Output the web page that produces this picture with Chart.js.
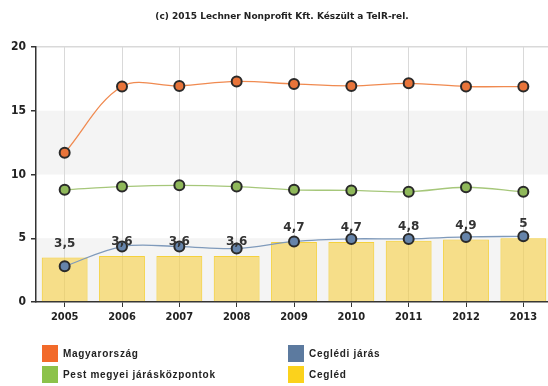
<!DOCTYPE html>
<html>
<head>
<meta charset="utf-8">
<script src="https://cdn.jsdelivr.net/npm/chart.js@4"></script>
<style>
  html, body { margin: 0; padding: 0; background: #fff; overflow: hidden; width: 548px; height: 386px; }
  #wrap { position: absolute; left: 0; top: 0; width: 559px; height: 335px; }
  #legend { position: absolute; left: 0; top: 0; width: 548px; height: 386px; pointer-events: none;
            font-family: "Liberation Sans", Arial, sans-serif; font-weight: bold; font-size: 10px; color: #222; }
  .item { position: absolute; height: 17px; line-height: 17px; white-space: nowrap; letter-spacing: 0.7px; }
  .sw { display: inline-block; width: 16px; height: 17px; vertical-align: top; margin-right: 5px; }
</style>
</head>
<body>
<div id="wrap"><canvas id="c" width="559" height="335"></canvas></div>
<div id="legend"></div>
<script>
const years = ['2005','2006','2007','2008','2009','2010','2011','2012','2013'];
const magyarorszag = [11.7, 16.9, 16.95, 17.3, 17.1, 16.95, 17.15, 16.9, 16.9];
const pestMegyei   = [8.8, 9.05, 9.15, 9.05, 8.8, 8.75, 8.65, 9.0, 8.65];
const cegledJaras  = [2.8, 4.35, 4.35, 4.2, 4.75, 4.95, 4.95, 5.1, 5.15];
const cegled       = [3.5, 3.6, 3.6, 3.6, 4.7, 4.7, 4.8, 4.9, 5.0];
const cegledLabels = ['3,5','3,6','3,6','3,6','4,7','4,7','4,8','4,9','5'];
const yTicks = [0, 5, 10, 15, 20];
const titleText = '(c) 2015 Lechner Nonprofit Kft. Készült a TeIR-rel.';

const seriesNames = ['Magyarország', 'Ceglédi járás', 'Pest megyei járásközpontok', 'Cegléd'];
const seriesColors = ['#f26a2a', '#5c7a9f', '#8cc24a', '#fbd21c'];

const bandsPlugin = {
  id: 'bands',
  beforeDraw(chart) {
    const { ctx, chartArea: a, scales: { y } } = chart;
    ctx.save();
    ctx.fillStyle = '#f4f4f4';
    for (let i = 0; i < yTicks.length - 1; i += 2) {
      const top = y.getPixelForValue(yTicks[i + 1]);
      const bot = y.getPixelForValue(yTicks[i]);
      ctx.fillRect(a.left, top, a.right - a.left, bot - top);
    }
    ctx.restore();
  }
};

const titlePlugin = {
  id: 'topTitle',
  afterDraw(chart) {
    const ctx = chart.ctx;
    ctx.save();
    ctx.font = 'bold 9px "DejaVu Sans", Verdana, sans-serif';
    ctx.fillStyle = '#222';
    ctx.textAlign = 'center';
    ctx.textBaseline = 'middle';
    ctx.fillText(titleText, 282, 17);
    ctx.restore();
  }
};

const labelPlugin = {
  id: 'barLabels',
  afterDatasetsDraw(chart) {
    const ctx = chart.ctx;
    const idx = chart.data.datasets.findIndex(d => d.type === 'bar');
    const meta = chart.getDatasetMeta(idx);
    ctx.save();
    ctx.font = 'bold 12px "DejaVu Sans", Verdana, sans-serif';
    ctx.fillStyle = '#333';
    ctx.textAlign = 'center';
    ctx.textBaseline = 'middle';
    meta.data.forEach((el, i) => {
      ctx.fillText(cegledLabels[i], el.x, el.y - 14);
    });
    ctx.restore();
  }
};

function lineDs(label, data, color, lineColor, order) {
  return {
    type: 'line', label, data, order,
    borderColor: lineColor, borderWidth: 1.3,
    backgroundColor: color,
    pointBackgroundColor: color, pointBorderColor: '#2a2a2a', pointBorderWidth: 2,
    pointRadius: 5, tension: 0.35, fill: false
  };
}

new Chart(document.getElementById('c'), {
  data: {
    labels: years,
    datasets: [
      lineDs('Magyarország', magyarorszag, '#e8743a', '#f08a50', 1),
      lineDs('Pest megyei járásközpontok', pestMegyei, '#8fb85a', '#a6c77a', 2),
      lineDs('Ceglédi járás', cegledJaras, '#6684aa', '#7f9abb', 3),
      {
        type: 'bar', label: 'Cegléd', data: cegled, order: 10,
        backgroundColor: 'rgba(247, 204, 50, 0.55)',
        borderColor: 'rgba(245, 205, 40, 0.9)', borderWidth: 1,
        barPercentage: 0.8, categoryPercentage: 1.0
      }
    ]
  },
  options: {
    responsive: false, maintainAspectRatio: false, animation: false,
    layout: { padding: { top: 47, right: 0, left: 0, bottom: 0 } },
    plugins: { legend: { display: false }, tooltip: { enabled: false }, title: { display: false } },
    scales: {
      x: {
        offset: true,
        grid: { offset: false, color: '#d9d9d9', tickColor: '#333', tickLength: 5, lineWidth: 1 },
        border: { color: '#333', width: 1.5 },
        ticks: { color: '#222', padding: 4, font: { family: '"DejaVu Sans Condensed", "DejaVu Sans", sans-serif', weight: 'bold', size: 11 } },
        afterFit(s) { s.height = 33; }
      },
      y: {
        min: 0, max: 20,
        afterBuildTicks(s) { s.ticks = yTicks.map(v => ({ value: v })); },
        grid: {
          color: c => (c.tick && c.tick.value === 20) ? '#d9d9d9' : 'rgba(0,0,0,0)',
          tickColor: '#333', tickLength: 5, lineWidth: 1.5
        },
        border: { color: '#333', width: 1.5 },
        ticks: { color: '#222', padding: 5, font: { family: '"DejaVu Sans Condensed", "DejaVu Sans", sans-serif', weight: 'bold', size: 12 } },
        afterFit(s) { s.width = 36; }
      }
    }
  },
  plugins: [bandsPlugin, titlePlugin, labelPlugin]
});

// HTML legend built from the series arrays
const legendPos = [
  { left: 42, top: 345 }, { left: 288, top: 345 },
  { left: 42, top: 366 }, { left: 288, top: 366 }
];
const lg = document.getElementById('legend');
seriesNames.forEach((name, i) => {
  const d = document.createElement('div');
  d.className = 'item';
  d.style.left = legendPos[i].left + 'px';
  d.style.top = legendPos[i].top + 'px';
  d.innerHTML = '<span class="sw" style="background:' + seriesColors[i] + '"></span>' + name;
  lg.appendChild(d);
});
</script>
</body>
</html>
